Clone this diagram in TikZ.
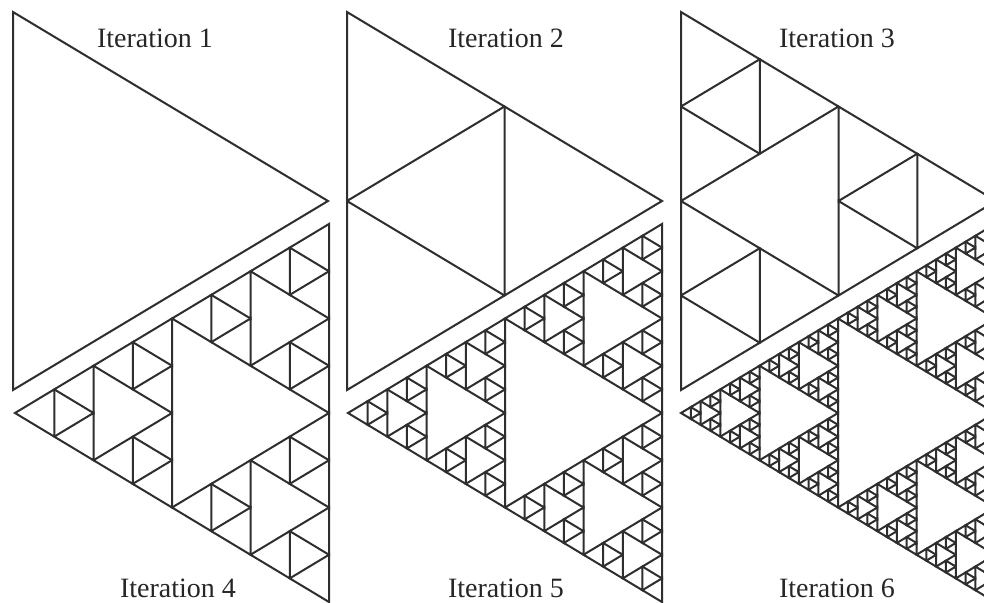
\documentclass[tikz,border=0pt]{standalone}
\usepackage{fontspec}
\setmainfont{Liberation Serif}
\usepackage{tikz}

% Triangolo di Sierpinski: #1 livello, #2 x del lato verticale, #3 y in alto,
% #4 larghezza (con segno: positiva verso destra), #5 altezza
\newcommand\sierp[5]{%
  \ifnum#1=0
    \draw[lato] (#2,#3) -- ++(0,#5) -- ++(#4,-#5/2) -- cycle;
  \else
    \begingroup
    \pgfmathtruncatemacro\sLv{#1-1}%
    \pgfmathsetmacro\sW{#4/2}%
    \pgfmathsetmacro\sH{#5/2}%
    \pgfmathsetmacro\sYa{#3+#5/2}%
    \pgfmathsetmacro\sXb{#2+#4/2}%
    \pgfmathsetmacro\sYb{#3+#5/4}%
    \edef\sNext{%
      \noexpand\sierp{\sLv}{#2}{#3}{\sW}{\sH}%
      \noexpand\sierp{\sLv}{#2}{\sYa}{\sW}{\sH}%
      \noexpand\sierp{\sLv}{\sXb}{\sYb}{\sW}{\sH}}%
    \sNext
    \endgroup
  \fi}

\begin{document}
\begin{tikzpicture}[
    x=1pt, y=-1pt,
    lato/.style={draw=black!82, line width=2pt},
    lbl/.style={font=\fontsize{28}{30}\selectfont, text=black!85, anchor=base, inner sep=0pt}
  ]
  % Cornice
  \useasboundingbox (0,0) rectangle (984,602);
  \clip (0,0) rectangle (984,602);

  % Riga in alto: triangoli verso destra
  \foreach \iter/\px in {0/13, 1/347, 2/681} {\sierp{\iter}{\px}{12}{315}{378}}

  % Riga in basso: triangoli verso sinistra
  \foreach \iter/\px in {3/329, 4/662, 5/995} {\sierp{\iter}{\px}{224}{-314}{378}}

  % Etichette
  \node[lbl] (it1) at (155,48) {Iteration 1};
  \node[lbl] (it2) at (506,48) {Iteration 2};
  \node[lbl] (it3) at (837,48) {Iteration 3};
  \node[lbl] (it4) at (178,597) {Iteration 4};
  \node[lbl] (it5) at (506,597) {Iteration 5};
  \node[lbl] (it6) at (837,597) {Iteration 6};
\end{tikzpicture}
\end{document}
